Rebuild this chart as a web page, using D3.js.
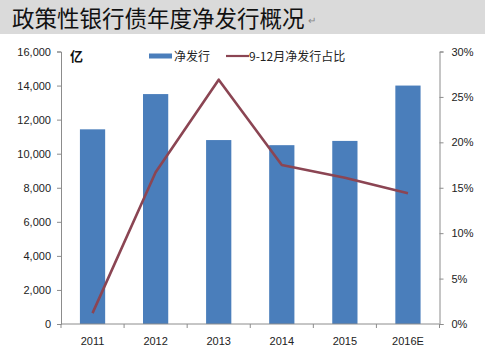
<!DOCTYPE html>
<html><head><meta charset="utf-8">
<script src="https://cdn.jsdelivr.net/npm/d3@7"></script>
<style>html,body{margin:0;padding:0;background:#fff;}svg{display:block;}</style>
</head><body>
<svg id="c" width="485" height="355"></svg>
<script>
const categories = ["2011","2012","2013","2014","2015","2016E"];
const netIssuance = [11430, 13500, 10800, 10500, 10750, 14000];
const sepDecShare = [1.2, 16.7, 26.9, 17.5, 16.1, 14.4];
const leftTicks = [0,2000,4000,6000,8000,10000,12000,14000,16000];
const rightTicks = [0,5,10,15,20,25,30];
const titleText = "政策性银行债年度净发行概况";
const legendLabels = ["净发行","9-12月净发行占比"];
const unitLabel = "亿";

const svg = d3.select("#c");
const font = "'Liberation Sans', Arial, 'Noto Sans CJK SC', sans-serif";
const cjk = "'Noto Sans CJK SC', sans-serif";

// title band
svg.append("rect").attr("x",0).attr("y",0).attr("width",485).attr("height",34).attr("fill","#dadada");
svg.append("text").attr("x",12).attr("y",27).attr("font-family",cjk).attr("font-size",22.5)
  .attr("fill","#111").text(titleText);
svg.append("text").attr("x",308).attr("y",24).attr("font-family",font).attr("font-size",10)
  .attr("fill","#888").text("↵");

const m = {l:61, r:439.5, t:51.5, b:324};
const x = d3.scaleBand().domain(categories).range([m.l, m.r]).paddingInner(0.6).paddingOuter(0.3);
const y = d3.scaleLinear().domain([0,16000]).range([m.b, m.t]);
const y2 = d3.scaleLinear().domain([0,30]).range([m.b, m.t]);

// bars
svg.append("g").selectAll("rect").data(netIssuance).join("rect")
  .attr("x",(d,i)=>x(categories[i])).attr("width",x.bandwidth())
  .attr("y",d=>y(d)).attr("height",d=>m.b-y(d)).attr("fill","#4a7ebb");

// axes
const axisColor = "#8c8c8c";
const gl = svg.append("g").attr("transform",`translate(${m.l},0)`)
  .call(d3.axisLeft(y).tickValues(leftTicks).tickSize(4).tickPadding(6).tickFormat(d3.format(",")));
const gr = svg.append("g").attr("transform",`translate(${m.r},0)`)
  .call(d3.axisRight(y2).tickValues(rightTicks).tickSize(4).tickPadding(8).tickFormat(d=>d+"%"));
const xb = d3.scalePoint().domain(d3.range(7)).range([m.l, m.r]);
const gx = svg.append("g").attr("transform",`translate(0,${m.b})`);
gx.append("line").attr("x1",m.l).attr("x2",m.r).attr("stroke",axisColor);
gx.selectAll("line.t").data(d3.range(7)).join("line").attr("class","t")
  .attr("x1",d=>xb(d)).attr("x2",d=>xb(d)).attr("y1",0).attr("y2",4).attr("stroke",axisColor);
gx.selectAll("text").data(categories).join("text")
  .attr("x",d=>x(d)+x.bandwidth()/2).attr("y",21).attr("text-anchor","middle")
  .attr("font-family",font).attr("font-size",11).attr("fill","#222").text(d=>d);

[gl,gr].forEach(g=>{
  g.select(".domain").attr("stroke",axisColor);
  g.selectAll(".tick line").attr("stroke",axisColor);
  g.selectAll(".tick text").attr("font-family",font).attr("font-size",11).attr("fill","#222");
});

// line
const line = d3.line().x((d,i)=>x(categories[i])+x.bandwidth()/2).y(d=>y2(d)).curve(d3.curveLinear);
svg.append("path").datum(sepDecShare).attr("d",line).attr("fill","none")
  .attr("stroke","#8b4553").attr("stroke-width",2.6).attr("stroke-linejoin","round");

// unit label
svg.append("text").attr("x",70).attr("y",61).attr("font-family",cjk).attr("font-size",13)
  .attr("font-weight","bold").attr("fill","#111").text(unitLabel);

// legend
svg.append("rect").attr("x",149).attr("y",53.5).attr("width",23).attr("height",5).attr("fill","#4a7ebb");
svg.append("text").attr("x",174).attr("y",60.5).attr("font-family",cjk).attr("font-size",12)
  .attr("fill","#222").text(legendLabels[0]);
svg.append("line").attr("x1",226).attr("x2",249).attr("y1",56).attr("y2",56)
  .attr("stroke","#8b4553").attr("stroke-width",2.2);
svg.append("text").attr("x",249).attr("y",60.5).attr("font-family",cjk).attr("font-size",12)
  .attr("fill","#222").text(legendLabels[1]);
</script>
</body></html>
